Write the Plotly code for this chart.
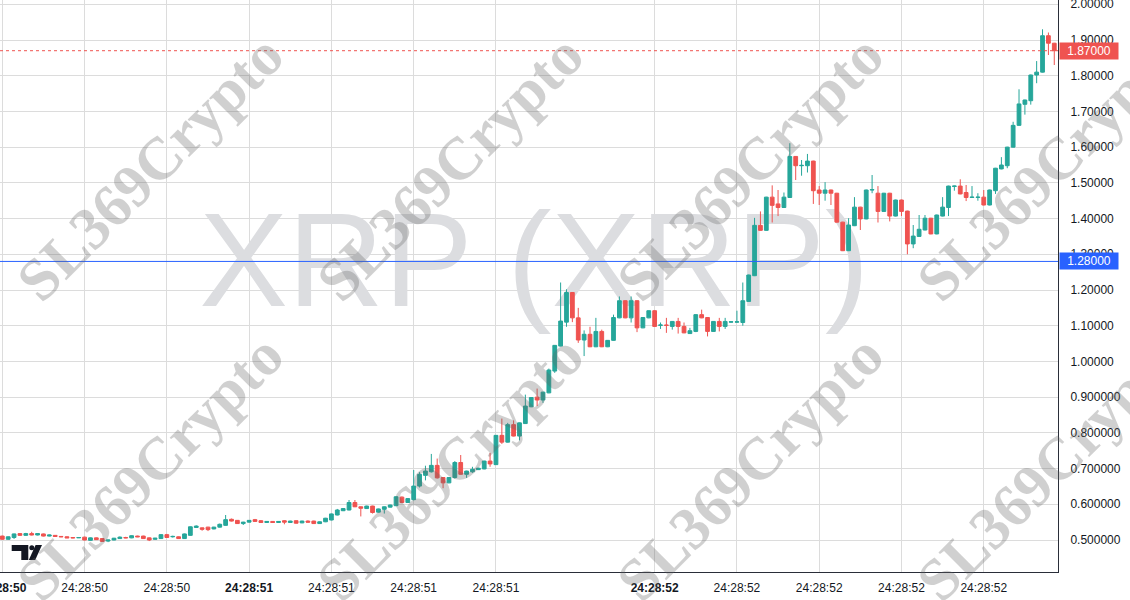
import plotly.graph_objects as go

# ---------------- data ----------------
open_ = [0.511,0.502,0.507,0.518,0.513,0.518,0.514,0.517,0.511,0.513,
         0.510,0.509,0.507,0.506,0.508,0.499,0.506,0.504,0.497,0.500,
         0.504,0.507,0.506,0.511,0.511,0.506,0.502,0.504,0.515,0.509,
         0.509,0.504,0.513,0.535,0.534,0.536,0.531,0.536,0.541,0.558,
         0.555,0.546,0.550,0.557,0.554,0.549,0.552,0.549,0.554,0.549,
         0.554,0.548,0.553,0.553,0.546,0.551,0.556,0.570,0.582,0.584,
         0.605,0.593,0.588,0.595,0.578,0.586,0.592,0.596,0.620,0.605,
         0.613,0.651,0.681,0.691,0.709,0.675,0.660,0.675,0.717,0.684,
         0.691,0.697,0.699,0.721,0.711,0.793,0.774,0.823,0.791,0.826,
         0.873,0.900,0.892,0.912,0.973,1.043,1.110,1.193,1.122,1.060,
         1.076,1.041,1.084,1.041,1.059,1.122,1.170,1.122,1.170,1.094,
         1.122,1.142,1.101,1.102,1.098,1.112,1.098,1.078,1.084,1.131,
         1.123,1.084,1.112,1.098,1.110,1.110,1.109,1.168,1.240,1.381,
         1.367,1.460,1.441,1.431,1.459,1.574,1.548,1.548,1.561,1.480,
         1.471,1.480,1.471,1.390,1.310,1.380,1.432,1.399,1.480,1.471,
         1.420,1.471,1.407,1.452,1.421,1.329,1.350,1.368,1.401,1.357,
         1.407,1.431,1.490,1.491,1.473,1.459,1.459,1.460,1.438,1.478,
         1.539,1.548,1.600,1.661,1.720,1.730,1.802,1.810,1.912,1.891]
high = [0.512,0.510,0.518,0.519,0.520,0.523,0.519,0.518,0.515,0.514,
        0.511,0.510,0.508,0.507,0.509,0.507,0.507,0.505,0.501,0.506,
        0.510,0.509,0.513,0.512,0.512,0.507,0.506,0.516,0.517,0.512,
        0.510,0.518,0.538,0.541,0.535,0.537,0.537,0.546,0.570,0.560,
        0.556,0.551,0.556,0.559,0.556,0.553,0.553,0.553,0.555,0.554,
        0.555,0.554,0.555,0.554,0.552,0.562,0.574,0.587,0.589,0.612,
        0.612,0.594,0.596,0.596,0.588,0.594,0.599,0.623,0.622,0.617,
        0.696,0.690,0.708,0.741,0.728,0.676,0.676,0.721,0.738,0.694,
        0.705,0.702,0.722,0.744,0.794,0.840,0.828,0.835,0.829,0.907,
        0.900,0.924,0.915,0.980,1.046,1.221,1.202,1.194,1.150,1.087,
        1.097,1.122,1.089,1.060,1.131,1.182,1.171,1.182,1.171,1.124,
        1.143,1.143,1.109,1.122,1.113,1.122,1.109,1.094,1.132,1.145,
        1.124,1.113,1.122,1.122,1.112,1.142,1.221,1.243,1.402,1.420,
        1.461,1.493,1.480,1.473,1.611,1.575,1.564,1.581,1.562,1.491,
        1.502,1.481,1.472,1.391,1.401,1.460,1.433,1.481,1.522,1.491,
        1.472,1.472,1.453,1.453,1.422,1.382,1.410,1.410,1.402,1.411,
        1.460,1.492,1.492,1.510,1.494,1.491,1.471,1.480,1.481,1.542,
        1.572,1.601,1.671,1.762,1.733,1.803,1.841,1.930,1.921,1.892]
low = [0.501,0.501,0.503,0.512,0.512,0.513,0.513,0.510,0.510,0.509,
       0.508,0.506,0.505,0.506,0.499,0.498,0.500,0.495,0.494,0.499,
       0.503,0.505,0.505,0.508,0.503,0.497,0.501,0.503,0.506,0.507,
       0.503,0.503,0.512,0.534,0.526,0.525,0.530,0.535,0.540,0.552,
       0.545,0.542,0.549,0.551,0.548,0.548,0.548,0.548,0.544,0.548,
       0.546,0.547,0.549,0.545,0.545,0.550,0.555,0.569,0.581,0.583,
       0.592,0.566,0.587,0.574,0.577,0.574,0.591,0.595,0.603,0.604,
       0.611,0.647,0.667,0.689,0.672,0.645,0.659,0.672,0.683,0.674,
       0.688,0.696,0.698,0.705,0.710,0.769,0.773,0.790,0.779,0.825,
       0.872,0.875,0.884,0.911,0.968,1.042,1.097,1.110,1.052,1.015,
       1.040,1.040,1.040,1.040,1.058,1.121,1.121,1.109,1.082,1.093,
       1.121,1.097,1.091,1.080,1.089,1.078,1.079,1.077,1.082,1.121,
       1.070,1.083,1.084,1.091,1.109,1.108,1.100,1.167,1.239,1.366,
       1.366,1.389,1.407,1.430,1.458,1.508,1.520,1.529,1.441,1.438,
       1.450,1.438,1.389,1.309,1.309,1.379,1.368,1.398,1.471,1.389,
       1.419,1.392,1.406,1.407,1.300,1.317,1.349,1.367,1.356,1.356,
       1.406,1.407,1.478,1.468,1.449,1.458,1.450,1.437,1.437,1.469,
       1.538,1.541,1.599,1.660,1.691,1.719,1.779,1.809,1.858,1.830]
close = [0.502,0.509,0.517,0.513,0.518,0.514,0.518,0.511,0.514,0.510,
         0.509,0.506,0.506,0.507,0.500,0.506,0.501,0.496,0.500,0.505,
         0.508,0.506,0.512,0.509,0.504,0.500,0.505,0.515,0.507,0.510,
         0.504,0.517,0.537,0.539,0.530,0.529,0.536,0.544,0.557,0.553,
         0.546,0.550,0.555,0.552,0.549,0.552,0.549,0.552,0.550,0.553,
         0.547,0.553,0.550,0.546,0.551,0.561,0.573,0.584,0.588,0.605,
         0.593,0.589,0.595,0.577,0.587,0.593,0.598,0.621,0.605,0.616,
         0.651,0.684,0.693,0.709,0.674,0.660,0.675,0.717,0.684,0.693,
         0.698,0.701,0.721,0.713,0.793,0.774,0.823,0.791,0.828,0.875,
         0.899,0.892,0.914,0.976,1.045,1.113,1.193,1.122,1.060,1.076,
         1.041,1.084,1.041,1.059,1.123,1.170,1.122,1.170,1.094,1.123,
         1.142,1.098,1.102,1.101,1.112,1.098,1.080,1.086,1.131,1.122,
         1.084,1.112,1.098,1.112,1.111,1.111,1.170,1.242,1.381,1.367,
         1.460,1.437,1.431,1.460,1.574,1.548,1.549,1.561,1.478,1.471,
         1.480,1.471,1.390,1.310,1.382,1.432,1.399,1.480,1.481,1.420,
         1.471,1.407,1.452,1.420,1.329,1.351,1.370,1.401,1.357,1.410,
         1.432,1.491,1.491,1.469,1.459,1.460,1.460,1.438,1.480,1.541,
         1.550,1.600,1.661,1.721,1.732,1.802,1.810,1.912,1.891,1.870]
bar_index = list(range(len(close)))

time_tick_index = [0, 14, 28, 42, 56, 70, 84, 111, 125, 139, 153, 167]
time_tick_labels = ["<b>24:28:50</b>", "24:28:50", "24:28:50", "<b>24:28:51</b>",
                    "24:28:51", "24:28:51", "24:28:51", "<b>24:28:52</b>",
                    "24:28:52", "24:28:52", "24:28:52", "24:28:52"]
price_ticks = [0.5, 0.6, 0.7, 0.8, 0.9, 1.0, 1.1, 1.2, 1.3, 1.4, 1.5, 1.6, 1.7, 1.8, 1.9, 2.0]
price_tick_labels = ["0.500000", "0.600000", "0.700000", "0.800000", "0.900000",
                     "1.00000", "1.10000", "1.20000", "1.30000", "1.40000", "1.50000",
                     "1.60000", "1.70000", "1.80000", "1.90000", "2.00000"]
last_price = close[-1]
marked_price = 1.28
title_text = "XRP (XRP)"
watermark_text = "SL369Crypto"

# ---------------- style ----------------
UP = "#26a69a"
DOWN = "#ef5350"
BLUE = "#2962ff"
TXT = "#131722"
GRID = "#dcdcdc"
AXIS = "#2a2e39"
W, H = 1130, 600
ML, MR, MT, MB = 0, 72, 0, 28
PW, PH = W - ML - MR, H - MT - MB
X_RANGE = [-2.3 / 5.877, (PW - 2.3) / 5.877]
Y_RANGE = [0.4104, 2.012]

def pxx(x):
    return x / PW

def pxy(y):
    return 1 - y / PH

fig = go.Figure()

# big symbol watermark, on the base subplot (below the candles)
fig.add_trace(go.Scatter(
    x=[90.5], y=[1.247], mode="text", text=[title_text],
    textposition="middle center",
    textfont=dict(family="Liberation Sans, Arial, sans-serif", size=133,
                  color="#dcdde0"),
    hoverinfo="skip", showlegend=False, xaxis="x", yaxis="y",
))

# candles on an overlaying subplot that shares the same ranges
fig.add_trace(go.Candlestick(
    x=bar_index, open=open_, high=high, low=low, close=close,
    increasing=dict(line=dict(color=UP, width=1), fillcolor=UP),
    decreasing=dict(line=dict(color=DOWN, width=1), fillcolor=DOWN),
    whiskerwidth=0, hoverinfo="skip", showlegend=False,
    xaxis="x2", yaxis="y2",
))

shapes = [
    dict(type="line", xref="paper", x0=0, x1=1, yref="y", y0=last_price, y1=last_price,
         line=dict(color=DOWN, width=1, dash="dot"), layer="above"),
    dict(type="line", xref="paper", x0=0, x1=1, yref="y", y0=marked_price, y1=marked_price,
         line=dict(color=BLUE, width=1), layer="above"),
]
# TradingView logo (decoration)
logo_t = (f"M {pxx(11.7)} {pxy(545)} L {pxx(28.3)} {pxy(545)} L {pxx(28.3)} {pxy(560)} "
          f"L {pxx(21.3)} {pxy(560)} L {pxx(21.3)} {pxy(551)} L {pxx(11.7)} {pxy(551)} Z")
logo_v = (f"M {pxx(35.6)} {pxy(545)} L {pxx(42)} {pxy(545)} L {pxx(35.2)} {pxy(560)} "
          f"L {pxx(28.8)} {pxy(560)} Z")
shapes.append(dict(type="path", xref="paper", yref="paper", path=logo_t,
                   fillcolor=TXT, line=dict(width=0), layer="above"))
shapes.append(dict(type="path", xref="paper", yref="paper", path=logo_v,
                   fillcolor=TXT, line=dict(width=0), layer="above"))
shapes.append(dict(type="circle", xref="paper", yref="paper",
                   x0=pxx(29.3), x1=pxx(34.3), y0=pxy(550.3), y1=pxy(545.3),
                   fillcolor=TXT, line=dict(width=0), layer="above"))

annotations = []
for cx in (150, 450, 750, 1050):
    for cy in (168, 468):
        annotations.append(dict(
            x=pxx(cx), y=pxy(cy), xref="paper", yref="paper",
            text=f"<b>{watermark_text}</b>", showarrow=False, textangle=-45,
            font=dict(family="Liberation Serif, Times New Roman, serif", size=60,
                      color="rgba(100,100,100,0.30)"),
            xanchor="center", yanchor="middle",
        ))

for val, col in ((last_price, DOWN), (marked_price, BLUE)):
    annotations.append(dict(
        x=1, xref="paper", y=val, yref="y", xanchor="left", yanchor="middle",
        xshift=1, text=f"{val:.5f}", showarrow=False, bgcolor=col,
        font=dict(family="Liberation Sans, Arial, sans-serif", size=12, color="white"),
        width=56, height=14, borderpad=1, align="center",
    ))

fig.update_layout(
    template=None,
    width=W, height=H,
    margin=dict(l=ML, r=MR, t=MT, b=MB, autoexpand=False),
    paper_bgcolor="white", plot_bgcolor="white",
    showlegend=False, hovermode=False,
    boxgap=0.36, boxgroupgap=0,
    shapes=shapes, annotations=annotations,
    font=dict(family="Liberation Sans, Arial, sans-serif", size=12, color=TXT),
    xaxis=dict(
        range=X_RANGE, automargin=False,
        tickmode="array", tickvals=time_tick_index, ticktext=time_tick_labels,
        showgrid=True, gridcolor=GRID, gridwidth=1, zeroline=False,
        showline=True, linecolor=AXIS, linewidth=1,
        ticks="", ticklabelstandoff=5, ticklabeloverflow="allow",
        tickfont=dict(size=12, color=TXT),
        rangeslider=dict(visible=False), fixedrange=True,
    ),
    yaxis=dict(
        range=Y_RANGE, side="right", automargin=False,
        tickmode="array", tickvals=price_ticks, ticktext=price_tick_labels,
        showgrid=True, gridcolor=GRID, gridwidth=1, zeroline=False,
        showline=True, linecolor=AXIS, linewidth=1,
        ticks="", ticklabelstandoff=9, ticklabeloverflow="allow",
        tickfont=dict(size=12, color=TXT),
        fixedrange=True,
    ),
    xaxis2=dict(
        overlaying="x", range=X_RANGE, visible=False, showgrid=False,
        zeroline=False, automargin=False, fixedrange=True,
        rangeslider=dict(visible=False),
    ),
    yaxis2=dict(
        overlaying="y", range=Y_RANGE, visible=False, showgrid=False,
        zeroline=False, automargin=False, fixedrange=True, side="right",
    ),
)

fig.write_html(
    "out.html",
    config={"displayModeBar": False},
    post_script="document.body.style.margin='0';document.body.style.overflow='hidden';",
)
